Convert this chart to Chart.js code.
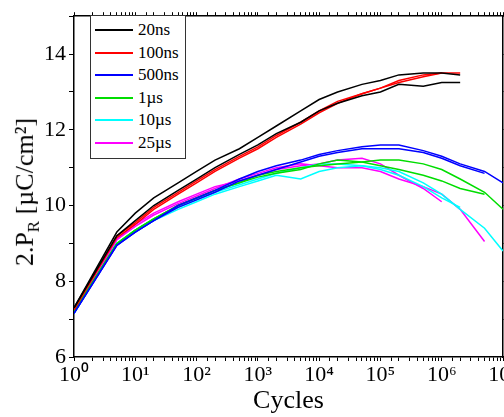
<!DOCTYPE html>
<html><head><meta charset="utf-8">
<script src="https://cdn.jsdelivr.net/npm/chart.js@4/dist/chart.umd.min.js"></script>
<style>
body{margin:0;overflow:hidden;background:#fff;font-family:"Liberation Serif",serif}
#wrap{position:relative;width:540px;height:417px}
#ytitle{position:absolute;left:-83px;top:175px;width:220px;text-align:center;transform:rotate(-90deg);font-size:26px}
#legend{position:absolute;left:90px;top:15px;width:94px;border:1px solid #333;background:#fff;padding:3px 0 4px 0}
#legend div{height:22.5px;line-height:22px;font-size:17px;position:relative;padding-left:47px}
#legend span{position:absolute;left:4px;top:10px;width:38px;height:2px}
</style></head><body>
<div id="wrap"><canvas id="chart" width="540" height="417"></canvas>
<div id="ytitle">2.P<sub style="font-size:17px">R</sub> [µC/cm²]</div>
<div id="legend"></div></div>
<script>
const cycles = [1,5,10,20,50,100,200,500,1e3,2e3,5e3,1e4,2e4,5e4,1e5,2e5,5e5,1e6,2e6,5e6,1e7];
const names = ['20ns','100ns','500ns','1µs','10µs','25µs'];
const colors = ['#000000','#ff0000','#0000ff','#00dd00','#00ffff','#ff00ff'];
// two measured samples per pulse width; null = not measured
const s20a  = [7.3,9.3,9.8,10.2,10.6,10.9,11.2,11.5,11.8,12.1,12.5,12.8,13.0,13.2,13.3,13.45,13.5,13.5,13.45,null,null];
const s20b  = [7.3,9.2,9.6,10.0,10.4,10.7,11.0,11.35,11.6,11.9,12.2,12.5,12.7,12.9,13.0,13.2,13.15,13.25,13.25,null,null];
const s100a = [7.25,9.2,9.55,9.95,10.35,10.65,10.95,11.3,11.55,11.85,12.2,12.5,12.75,12.95,13.1,13.25,13.4,13.5,13.5,null,null];
const s100b = [7.25,9.15,9.5,9.9,10.3,10.6,10.9,11.25,11.5,11.8,12.15,12.45,12.7,12.95,13.1,13.3,13.45,13.5,null,null,null];
const s500a = [7.15,8.95,9.3,9.6,10.0,10.2,10.4,10.7,10.9,11.05,11.2,11.35,11.45,11.55,11.6,11.6,11.45,11.3,11.1,10.9,10.6];
const s500b = [7.15,8.95,9.3,9.6,9.95,10.15,10.35,10.65,10.8,10.95,11.15,11.3,11.4,11.5,11.5,11.5,11.4,11.25,11.05,10.85,null];
const s1a   = [7.2,9.0,9.35,9.65,10.0,10.2,10.4,10.6,10.8,10.9,11.0,11.05,11.1,11.15,11.2,11.2,11.1,10.95,10.7,10.35,9.9];
const s1b   = [7.2,9.0,9.35,9.65,10.0,10.2,10.4,10.6,10.75,10.85,10.95,11.1,11.2,11.15,11.05,10.95,10.8,10.65,10.45,10.3,null];
const s10a  = [7.15,9.0,9.3,9.6,9.9,10.1,10.3,10.5,10.65,10.8,10.7,10.9,11.0,11.05,11.0,10.9,10.6,10.3,9.9,9.4,8.8];
const s10b  = [7.15,9.0,9.35,9.65,9.95,10.15,10.35,10.55,10.7,10.85,11.0,11.1,11.1,11.05,10.95,10.8,10.5,10.2,9.95,null,null];
const s25a  = [7.2,9.1,9.5,9.8,10.1,10.3,10.5,10.65,10.8,10.95,11.05,11.1,11.2,11.25,11.1,10.8,10.45,10.1,null,null,null];
const s25b  = [7.2,9.1,9.45,9.75,10.05,10.25,10.45,10.7,10.85,11.0,11.1,11.05,11.0,11.0,10.9,10.7,10.5,10.3,9.9,9.05,null];
const series = [[s20a,s20b],[s100a,s100b],[s500a,s500b],[s1a,s1b],[s10a,s10b],[s25a,s25b]];

const sup = {'0':'⁰','1':'¹','2':'²','3':'³','4':'⁴','5':'⁵','6':'⁶','7':'⁷'};
const datasets = [];
series.forEach(function(pair, i) {
  pair.forEach(function(vals) {
    datasets.push({
      label: names[i],
      data: cycles.map(function(c, k) { return {x: c, y: vals[k]}; }),
      borderColor: colors[i], borderWidth: 1.5, pointRadius: 0, spanGaps: false, tension: 0
    });
  });
});
const legend = document.getElementById('legend');
names.forEach(function(n, i) {
  legend.innerHTML += '<div><span style="background:' + colors[i] + '"></span>' + n + '</div>';
});

const tickFont = {family: 'Liberation Serif', size: 22};
function decade(v) {
  const e = Math.log10(v);
  return Math.abs(e - Math.round(e)) < 1e-9;
}
new Chart(document.getElementById('chart'), {
  type: 'line',
  data: {datasets: datasets},
  options: {
    responsive: false, animation: false,
    plugins: {legend: {display: false}, tooltip: {enabled: false}},
    scales: {
      x: {
        type: 'logarithmic', min: 1, max: 1e7, position: 'bottom',
        border: {color: '#000', width: 1.5},
        grid: {drawOnChartArea: false, color: '#000', tickLength: 4},
        ticks: {font: tickFont, color: '#000', maxRotation: 0, autoSkip: false, padding: 1,
          callback: function(v) { return decade(v) ? '10' + sup[String(Math.round(Math.log10(v)))] : ''; }},
        title: {display: true, text: 'Cycles', font: {family: 'Liberation Serif', size: 26}, color: '#000', padding: 0},
        afterFit: function(s) { s.height = 60; }
      },
      x2: {
        type: 'logarithmic', min: 1, max: 1e7, position: 'top',
        border: {color: '#000', width: 1.5},
        grid: {drawOnChartArea: false, color: '#000', tickLength: 4},
        ticks: {display: false},
        afterFit: function(s) { s.height = 5; }
      },
      y: {
        min: 6, max: 15,
        border: {color: '#000', width: 1.5},
        grid: {drawOnChartArea: false, color: '#000', tickLength: 5},
        ticks: {stepSize: 1, font: tickFont, color: '#000',
          callback: function(v) { return v % 2 === 0 ? v : ''; }},
        afterFit: function(s) { s.width = 74; }
      },
      y2: {
        min: 6, max: 15, position: 'right',
        border: {color: '#000', width: 1.5},
        grid: {drawOnChartArea: false, color: '#000', tickLength: 4},
        ticks: {display: false, stepSize: 1},
        afterFit: function(s) { s.width = 37; }
      }
    }
  }
});
</script></body></html>
